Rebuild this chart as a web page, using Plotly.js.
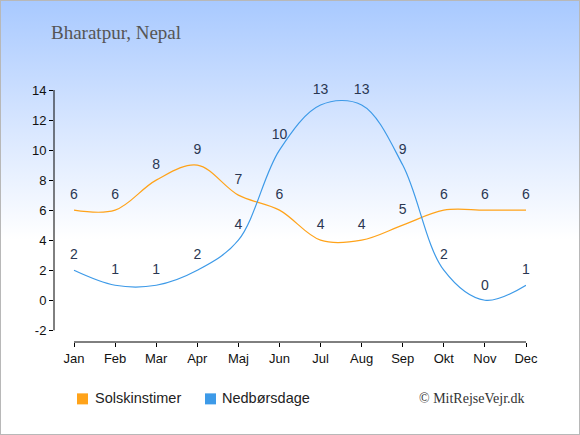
<!DOCTYPE html>
<html><head><meta charset="utf-8">
<script src="https://cdn.plot.ly/plotly-3.0.1.min.js"></script>
<style>
html,body{margin:0;padding:0;}
#wrap{position:relative;width:580px;height:435px;background:linear-gradient(to bottom,#a8c9ff 0%,#d9e7ff 30%,#ffffff 55%,#ffffff 100%);}
#chart{position:absolute;left:0;top:0;width:580px;height:435px;}
#frame{position:absolute;left:0;top:0;width:580px;height:435px;box-sizing:border-box;border:1px solid #b8b8b8;pointer-events:none;}
</style></head>
<body><div id="wrap"><div id="chart"></div><div id="frame"></div></div>
<script>
const months = ["Jan","Feb","Mar","Apr","Maj","Jun","Jul","Aug","Sep","Okt","Nov","Dec"];
const sunHours = [6,6,8,9,7,6,4,4,5,6,6,6];
const rainDays = [2,1,1,2,4,10,13,13,9,2,0,1];
const seriesNames = ["Solskinstimer","Nedbørsdage"];
const yTicks = [-2,0,2,4,6,8,10,12,14];
const yTickText = ["-2","0","2","4","6","8","10","12","14"];
const colors = ["#ffa31a","#3d9ae8"];

const idx = months.map((m,i)=>i);
const L=54, R=526, T=90, B=341.7, W=580, H=435;
const px = v => (v-L)/(R-L);
const py = v => (B-v)/(B-T);
const labelFont = {family:"Liberation Sans, Arial, sans-serif", size:14, color:"#2a3752"};
const tickFont = {family:"Liberation Sans, Arial, sans-serif", size:13, color:"#111"};

function series(vals, color){
  return {x:idx, y:vals, type:"scatter", mode:"lines+markers+text", text:vals.map(String),
    textposition:"top center", textfont:labelFont, cliponaxis:false,
    marker:{size:10, color:"rgba(0,0,0,0)"},
    line:{color:color, width:1.2, shape:"spline", smoothing:1}, showlegend:false, hoverinfo:"skip"};
}
const data = [series(sunHours, colors[0]), series(rainDays, colors[1])];

const shapes = [
  {type:"line", xref:"x", yref:"paper", x0:0, x1:11, y0:0, y1:0, line:{color:"#000", width:1}},
  {type:"line", xref:"paper", yref:"y", x0:0, x1:0, y0:-2, y1:14, line:{color:"#000", width:1}},
  {type:"rect", xref:"paper", yref:"paper", x0:px(77), x1:px(88), y0:py(404), y1:py(393), fillcolor:colors[0], line:{width:0}},
  {type:"rect", xref:"paper", yref:"paper", x0:px(205), x1:px(216), y0:py(404), y1:py(393), fillcolor:colors[1], line:{width:0}}
];
const legFont = {family:"Liberation Sans, Arial, sans-serif", size:14.5, color:"#222"};
const annotations = [
  {xref:"paper", yref:"paper", x:px(93), y:py(398), text:seriesNames[0], showarrow:false, xanchor:"left", yanchor:"middle", font:legFont},
  {xref:"paper", yref:"paper", x:px(220), y:py(398), text:seriesNames[1], showarrow:false, xanchor:"left", yanchor:"middle", font:legFont},
  {xref:"paper", yref:"paper", x:px(527), y:py(398), text:"© MitRejseVejr.dk", showarrow:false, xanchor:"right", yanchor:"middle",
   font:{family:"Liberation Serif, DejaVu Serif, serif", size:14, color:"#333"}}
];

const layout = {
  width:W, height:H,
  margin:{l:L, r:W-R, t:T, b:H-B},
  paper_bgcolor:"rgba(0,0,0,0)", plot_bgcolor:"rgba(0,0,0,0)",
  title:{text:"Bharatpur, Nepal", xref:"container", yref:"container", x:51/W, xanchor:"left", y:1-32/H, yanchor:"middle",
    font:{family:"Liberation Serif, DejaVu Serif, serif", size:19, color:"#555"}},
  xaxis:{range:[-0.487, 11], tickvals:idx, ticktext:months, showgrid:false, zeroline:false, showline:false,
    ticks:"outside", ticklen:4, tickcolor:"#000", tickfont:tickFont, fixedrange:true},
  yaxis:{range:[-2.78, 14], tickvals:yTicks, ticktext:yTickText, showgrid:false, zeroline:false, showline:false,
    ticks:"outside", ticklen:4, tickcolor:"#000", tickfont:tickFont, fixedrange:true},
  shapes:shapes, annotations:annotations, showlegend:false
};
Plotly.newPlot("chart", data, layout, {displayModeBar:false, staticPlot:true});
</script></body></html>
